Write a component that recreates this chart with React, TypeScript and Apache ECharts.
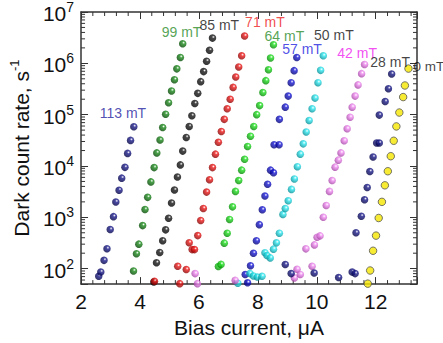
import React, { useEffect, useRef } from 'react';
import * as echarts from 'echarts';

const XMIN = 2;
const XMAX = 13.4;
const YMIN = 50;
const YMAX = 1e7;

const xMinorTicks = [2.4, 2.8, 3.2, 3.6, 4.4, 4.8, 5.2, 5.6, 6.4, 6.8, 7.2, 7.6, 8.4, 8.8, 9.2, 9.6, 10.4, 10.8, 11.2, 11.6, 12.4, 12.8, 13.2];
const yMinorMultipliers = [2, 3, 4, 5, 6, 7, 8, 9];
const yDecades = [10, 100, 1000, 10000, 100000, 1000000];

const s113 = [[2.6, 71], [2.67, 86], [2.78, 145], [2.88, 244], [2.99, 577], [3.10, 1030], [3.18, 1990], [3.29, 3380], [3.38, 5800], [3.49, 9400], [3.58, 17600], [3.68, 31500], [3.79, 58000]];
const s99 = [[3.78, 90], [3.88, 195], [3.96, 300], [4.09, 690], [4.17, 1420], [4.26, 2450], [4.37, 4900], [4.48, 9300], [4.57, 18000], [4.68, 32000], [4.77, 56000], [4.87, 102000], [4.97, 170000], [5.07, 290000], [5.17, 480000], [5.25, 780000], [5.37, 1300000], [5.45, 2400000]];
const s85 = [[4.47, 55], [4.56, 130], [4.67, 207], [4.77, 350], [4.87, 570], [4.97, 960], [5.07, 1900], [5.17, 3400], [5.27, 6100], [5.37, 10500], [5.45, 19500], [5.57, 36000], [5.67, 59000], [5.76, 95000], [5.86, 165000], [5.96, 260000], [6.06, 440000], [6.16, 690000], [6.26, 1100000], [6.36, 1800000], [6.46, 3100000]];
const s71 = [[4.49, 57], [5.35, 51], [5.28, 111], [5.57, 96], [5.67, 320], [5.77, 235], [5.85, 235], [5.96, 440], [6.06, 870], [6.15, 1490], [6.26, 3100], [6.36, 5400], [6.46, 9300], [6.56, 17000], [6.66, 29000], [6.76, 47000], [6.86, 81000], [6.96, 130000], [7.06, 200000], [7.16, 340000], [7.25, 540000], [7.35, 850000], [7.45, 1400000], [7.55, 3400000]];
const s64 = [[6.66, 110], [6.75, 121], [6.86, 314], [6.96, 490], [7.04, 910], [7.14, 1600], [7.24, 3200], [7.35, 5200], [7.45, 8300], [7.55, 13500], [7.65, 24000], [7.75, 38000], [7.86, 59000], [7.96, 100000], [8.06, 150000], [8.17, 270000], [8.27, 460000], [8.36, 750000], [8.43, 1270000], [8.53, 2300000]];
const s57 = [[7.57, 77], [7.65, 53], [7.75, 114], [7.85, 200], [7.95, 350], [8.05, 720], [8.15, 1400], [8.24, 2600], [8.33, 4400], [8.43, 8300], [8.53, 7400], [8.55, 26000], [8.72, 26000], [8.73, 81000], [8.93, 140000], [9.03, 230000], [9.13, 420000], [9.23, 720000], [9.32, 1300000]];
const s50 = [[7.32, 52], [7.73, 80], [7.85, 72], [7.98, 69], [8.14, 71], [8.24, 204], [8.31, 180], [8.42, 162], [8.53, 240], [8.63, 318], [8.73, 490], [8.85, 1140], [8.93, 1480], [9.03, 2100], [9.14, 3500], [9.24, 5600], [9.34, 9700], [9.44, 17000], [9.54, 27000], [9.64, 46000], [9.74, 77000], [9.84, 130000], [9.94, 210000], [10.04, 420000], [10.13, 730000], [10.22, 1400000]];
const s42 = [[5.87, 80], [5.95, 51], [7.23, 59], [9.24, 66], [9.33, 97], [9.44, 77], [9.63, 243], [9.84, 111], [9.92, 290], [10.01, 410], [10.11, 435], [10.22, 1000], [10.32, 1700], [10.43, 3200], [10.52, 5200], [10.62, 9500], [10.73, 13000], [10.82, 18000], [10.93, 31000], [11.03, 53000], [11.13, 89000], [11.20, 140000], [11.30, 230000], [11.40, 380000], [11.52, 630000], [11.62, 950000]];
const s28 = [[8.93, 120], [9.13, 80], [9.91, 82], [10.74, 67], [11.20, 86], [11.30, 80], [11.33, 500], [11.51, 1050], [11.62, 2200], [11.71, 3800], [11.80, 7800], [11.91, 15000], [12.03, 28000], [12.12, 28000], [12.12, 98000], [12.32, 180000], [12.43, 320000], [12.54, 620000]];
const s0 = [[11.73, 51], [11.81, 92], [11.91, 223], [12.01, 440], [12.10, 970], [12.21, 2000], [12.31, 4200], [12.41, 7900], [12.51, 15500], [12.61, 31000], [12.70, 59000], [12.80, 110000], [12.93, 220000], [12.99, 370000], [13.11, 790000]];

const seriesNames = ['113 mT', '99 mT', '85 mT', '71 mT', '64 mT', '57 mT', '50 mT', '42 mT', '28 mT', '0 mT'];
const seriesData = [s113, s99, s85, s71, s64, s57, s50, s42, s28, s0];
const ballColors = ['#1a1a8c', '#1c8c1c', '#1a1a1a', '#f01818', '#20e020', '#1818d8', '#30e8f0', '#f08cf0', '#1a1a8c', '#f5e600'];
const ballDark = ['#000040', '#004000', '#000000', '#800000', '#008000', '#000070', '#008890', '#a040a0', '#000040', '#f5e600'];

const labelPos = [[3.42, 110000], [5.41, 4000000], [6.69, 5500000], [8.24, 6300000], [8.90, 3400000], [9.50, 1860000], [10.58, 3500000], [11.37, 1600000], [12.49, 1050000], [13.80, 850000]];
const labelColors = ['#2424a0', '#2a8c2a', '#111111', '#ee2020', '#2a8c2a', '#2222e0', '#111111', '#ee22ee', '#111111', '#111111'];

const FONT = '"Liberation Sans", Arial, sans-serif';

function ball(c: string, dark: string) {
  return {
    type: 'radial', x: 0.62, y: 0.35, r: 0.7,
    colorStops: [
      { offset: 0, color: '#ffffff' },
      { offset: 0.28, color: c },
      { offset: 1, color: dark },
    ],
  };
}

function buildOption() {
  const yMinor: number[][] = [];
  yDecades.forEach((d) => yMinorMultipliers.forEach((m) => {
    const v = d * m;
    if (v > YMIN && v < YMAX) yMinor.push([XMIN, v]);
  }));
  const xMinor = xMinorTicks.map((v) => [v, YMIN]);

  const scatterSeries = seriesData.map((data, i) => {
    const isYellow = i === 9;
    return {
      type: 'scatter',
      name: seriesNames[i],
      data,
      symbol: 'circle',
      symbolSize: 7.5,
      itemStyle: isYellow
        ? { color: ballColors[i], borderColor: '#555', borderWidth: 1 }
        : { color: ball(ballColors[i], ballDark[i]) },
      z: 3,
    };
  });

  const labelSeries = {
    type: 'scatter',
    symbolSize: 0,
    clip: false,
    silent: true,
    z: 5,
    data: labelPos.map((p, i) => ({
      value: p,
      label: {
        show: true,
        position: 'inside',
        formatter: seriesNames[i],
        color: labelColors[i],
        fontSize: i === 9 ? 13.5 : 14,
        lineHeight: 14,
        fontFamily: FONT,
      },
    })),
  };

  const tickRender = (dir: 'x' | 'y') => (params: any, api: any) => {
    const v = api.value(dir === 'x' ? 0 : 1);
    const len = 4;
    const style = { stroke: '#333', lineWidth: 1 };
    if (dir === 'x') {
      const b = api.coord([v, YMIN]);
      const t = api.coord([v, YMAX]);
      return {
        type: 'group',
        children: [
          { type: 'line', shape: { x1: b[0], y1: b[1], x2: b[0], y2: b[1] - len }, style },
          { type: 'line', shape: { x1: t[0], y1: t[1], x2: t[0], y2: t[1] + len }, style },
        ],
      };
    }
    const l = api.coord([XMIN, v]);
    const r = api.coord([XMAX, v]);
    return {
      type: 'group',
      children: [
        { type: 'line', shape: { x1: l[0], y1: l[1], x2: l[0] + len, y2: l[1] }, style },
        { type: 'line', shape: { x1: r[0], y1: r[1], x2: r[0] - len, y2: r[1] }, style },
      ],
    };
  };

  const axisLine = { show: true, lineStyle: { color: '#333', width: 1.5 } };
  const axisTick = { show: true, inside: true, length: 7, lineStyle: { color: '#333', width: 1 } };

  return {
    animation: false,
    backgroundColor: '#ffffff',
    grid: { left: 72, right: 26, top: 10, bottom: 58 },
    xAxis: [
      {
        type: 'value', min: XMIN, max: XMAX, interval: 2, position: 'bottom',
        axisLine, axisTick, splitLine: { show: false },
        axisLabel: {
          margin: 7, fontSize: 21, color: '#111', fontFamily: FONT,
          formatter: (v: number) => (Math.abs(v % 2) < 1e-9 ? String(v) : ''),
        },
        name: 'Bias current, \u03bcA', nameLocation: 'middle', nameGap: 28,
        nameTextStyle: { fontSize: 21, color: '#111', fontFamily: FONT },
      },
      {
        type: 'value', min: XMIN, max: XMAX, interval: 2, position: 'top',
        axisLine, axisTick, splitLine: { show: false }, axisLabel: { show: false },
      },
    ],
    yAxis: [
      {
        type: 'log', logBase: 10, min: YMIN, max: YMAX, position: 'left',
        axisLine, axisTick, splitLine: { show: false }, minorTick: { show: false },
        axisLabel: {
          margin: 7, color: '#111', fontFamily: FONT,
          formatter: (v: number) => {
            const e = Math.round(Math.log10(v));
            if (Math.abs(v / Math.pow(10, e) - 1) > 1e-6) return '';
            return `{b|10}{s|${e}}`;
          },
          rich: {
            b: { fontSize: 21, fontFamily: FONT, color: '#111', verticalAlign: 'bottom', lineHeight: 24 },
            s: { fontSize: 14, fontFamily: FONT, color: '#111', verticalAlign: 'top', lineHeight: 24, padding: [0, 0, 10, 0] },
          },
        },
        name: '{t|Dark count rate, s}{u|-1}', nameLocation: 'middle', nameGap: 44, nameRotate: 90,
        nameTextStyle: {
          fontSize: 21, color: '#111', fontFamily: FONT,
          rich: {
            t: { fontSize: 21, fontFamily: FONT, color: '#111', lineHeight: 24, verticalAlign: 'bottom' },
            u: { fontSize: 13, fontFamily: FONT, color: '#111', lineHeight: 24, verticalAlign: 'top', padding: [0, 0, 10, 0] },
          },
        },
      },
      {
        type: 'log', logBase: 10, min: YMIN, max: YMAX, position: 'right',
        axisLine, axisTick, splitLine: { show: false }, axisLabel: { show: false },
      },
    ],
    series: [
      { type: 'custom', data: xMinor, renderItem: tickRender('x'), silent: true, z: 1 },
      { type: 'custom', data: yMinor, renderItem: tickRender('y'), silent: true, z: 1 },
      ...scatterSeries,
      labelSeries,
    ],
  };
}

export default function App() {
  const ref = useRef<HTMLDivElement>(null);
  useEffect(() => {
    const chart = echarts.init(ref.current!, null, { renderer: 'svg' });
    chart.setOption(buildOption() as any);
    return () => chart.dispose();
  }, []);
  return <div ref={ref} style={{ position: 'fixed', left: 0, top: 0, width: 443, height: 343 }} />;
}
